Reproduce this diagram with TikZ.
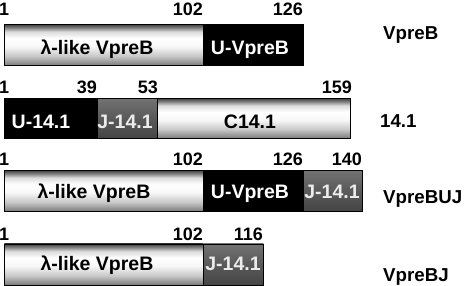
\documentclass[tikz,border=0pt]{standalone}
\usepackage{fontspec}
\setmainfont{Liberation Sans}
\definecolor{gA}{gray}{0.25}
\definecolor{gB}{gray}{0.50}
\definecolor{gC}{gray}{0.86}
\definecolor{gD}{gray}{0.97}
\definecolor{gE}{gray}{0.78}
\definecolor{gF}{gray}{0.48}
\definecolor{jTop}{gray}{0.45}
\definecolor{jMid}{gray}{0.37}
\definecolor{jBot}{gray}{0.27}
\definecolor{jText}{gray}{0.92}
\pgfdeclareverticalshading{vshade}{100bp}{color(0bp)=(gF); color(25bp)=(gF); color(36bp)=(gE); color(48bp)=(gD); color(58bp)=(white); color(66bp)=(gC); color(71bp)=(gB); color(75bp)=(gA); color(100bp)=(gA)}
\pgfdeclareverticalshading{jshade}{100bp}{color(0bp)=(jBot); color(25bp)=(jBot); color(55bp)=(jMid); color(75bp)=(jTop); color(100bp)=(jTop)}
\tikzset{
  seg/.style={draw=black, line width=0.7pt, inner sep=0pt, anchor=north west},
  grad/.style={seg, shading=vshade},
  blk/.style={seg, fill=black},
  jseg/.style={seg, shading=jshade},
  num/.style={font=\bfseries\fontsize{18}{18}\selectfont, inner sep=0pt, anchor=base east},
  numone/.style={num, anchor=base west},
  bartext/.style={font=\bfseries\fontsize{19.5}{19.5}\selectfont, inner sep=0pt, anchor=base},
  wtext/.style={bartext, text=white},
  jtext/.style={bartext, text=jText},
  lab/.style={font=\bfseries\fontsize{18.7}{18.7}\selectfont, inner sep=0pt, anchor=base west}
}
\begin{document}
\begin{tikzpicture}[x=1pt,y=-1pt]
\useasboundingbox (0,0) rectangle (466,285);
% Row 1: VpreB
\node[grad, minimum width=199pt, minimum height=41pt] (r1a) at (4,24) {};
\node[blk, minimum width=100pt, minimum height=41pt] (r1b) at (203,24) {};
\node[bartext] (t1a) at (97,54) {λ-like VpreB};
\node[wtext] (t1b) at (250,54) {U-VpreB};
\node[numone] (n1a) at (-1,15) {1};
\node[num] (n1b) at (203,15) {102};
\node[num] (n1c) at (303,15) {126};
\node[lab] (l1) at (383,39) {VpreB};
% Row 2: 14.1
\node[blk, minimum width=93pt, minimum height=40pt] (r2a) at (4,98) {};
\node[jseg, minimum width=60pt, minimum height=40pt] (r2b) at (97,98) {};
\node[grad, minimum width=193pt, minimum height=40pt] (r2c) at (157,98) {};
\node[wtext] (t2a) at (41,128) {U-14.1};
\node[jtext] (t2b) at (125,128) {J-14.1};
\node[bartext] (t2c) at (250,128) {C14.1};
\node[numone] (n2a) at (-1,93) {1};
\node[num] (n2b) at (97,93) {39};
\node[num] (n2c) at (158,93) {53};
\node[num] (n2d) at (352,93) {159};
\node[lab] (l2) at (380,127) {14.1};
% Row 3: VpreBUJ
\node[grad, minimum width=199pt, minimum height=41pt] (r3a) at (4,170) {};
\node[blk, minimum width=100pt, minimum height=41pt] (r3b) at (203,170) {};
\node[jseg, minimum width=59pt, minimum height=41pt] (r3c) at (303,170) {};
\node[bartext] (t3a) at (94,198) {λ-like VpreB};
\node[wtext] (t3b) at (250,198) {U-VpreB};
\node[jtext] (t3c) at (332,198) {J-14.1};
\node[numone] (n3a) at (-1,165) {1};
\node[num] (n3b) at (203,165) {102};
\node[num] (n3c) at (303,165) {126};
\node[num] (n3d) at (362,165) {140};
\node[lab] (l3) at (383,203) {VpreBUJ};
% Row 4: VpreBJ
\node[grad, minimum width=199pt, minimum height=41pt] (r4a) at (4,243.5) {};
\node[jseg, minimum width=60pt, minimum height=41pt] (r4b) at (203,243.5) {};
\node[bartext] (t4a) at (97,270) {λ-like VpreB};
\node[jtext] (t4b) at (233,270) {J-14.1};
\node[numone] (n4a) at (-1,240) {1};
\node[num] (n4b) at (203,240) {102};
\node[num] (n4c) at (263,240) {116};
\node[lab] (l4) at (383,281) {VpreBJ};
\end{tikzpicture}
\end{document}
